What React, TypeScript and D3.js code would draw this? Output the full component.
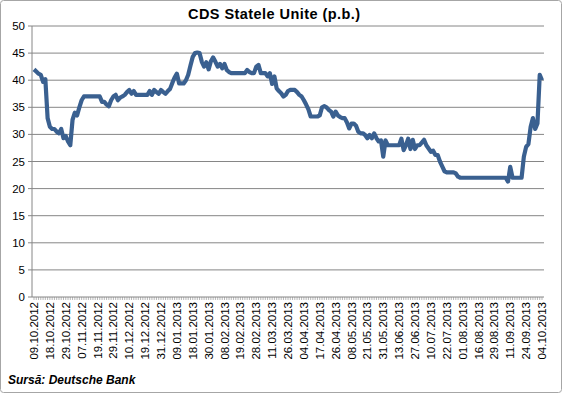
import React from 'react';
import * as d3 from 'd3';

// CDS quotes, one per trading day (p.b.)
const cdsValues = [
  42, 41.6, 41.2, 41, 39.7, 40.2, 33, 31.4, 31, 31,
  30.5, 30.2, 31, 29.3, 29.7, 28.7, 28, 32.7, 34, 33.5,
  35, 36.3, 37, 37, 37, 37, 37, 37, 37, 37,
  36, 36, 35.5, 35.2, 36.3, 37, 37.3, 36.3, 36.8, 37,
  37.3, 37.8, 38.2, 37.5, 38, 37.3, 37.3, 37.3, 37.3, 37.3,
  37.3, 38, 37.3, 38.2, 37.8, 37.5, 38.2, 37.8, 37.5, 38,
  38.4, 39.5, 40.5, 41.2, 39.4, 39.4, 39.4, 40, 41, 42.7,
  44.3, 45, 45.1, 45, 43.4, 42.5, 43.3, 42, 43.5, 44.2,
  43.4, 42.5, 43, 42.2, 43, 41.9, 41.5, 41.3, 41.3, 41.3,
  41.3, 41.3, 41.3, 41.3, 41.9, 41.5, 41.3, 41.3, 42.5, 42.8,
  41.3, 41.3, 41.3, 40.7, 41.3, 39.3, 40.7, 38.5, 38, 37.6,
  37, 37.3, 38, 38.2, 38.2, 38.2, 37.8, 37.3, 37, 36.3,
  35.5, 34.6, 33.3, 33.3, 33.3, 33.3, 33.5, 35, 35.2, 35,
  34.5, 34.2, 33.3, 34.2, 33.5, 33.2, 33, 33, 32.2, 31.1,
  32, 32, 31.6, 30.5, 30.2, 30.2, 29.9, 29.3, 29.9, 29.3,
  30.2, 29.3, 28.7, 28.9, 25.9, 28.9, 28, 28, 28, 28,
  28, 28, 29.2, 27.1, 28, 29.2, 27.3, 29, 27.3, 28,
  28, 28.5, 29, 28, 27.4, 26.8, 27, 26.2, 26.2, 25,
  24.1, 23.2, 23, 23, 23, 23, 22.8, 22.2, 22, 22,
  22, 22, 22, 22, 22, 22, 22, 22, 22, 22,
  22, 22, 22, 22, 22, 22, 22, 22, 22, 21.3,
  24, 22, 22, 22, 22, 22, 25.9, 27.7, 28.2, 31.4,
  33, 31, 32, 41, 40,
];

// one label every 7 trading days
const dateLabels = [
  '09.10.2012', '18.10.2012', '29.10.2012', '07.11.2012', '19.11.2012', '29.11.2012',
  '10.12.2012', '19.12.2012', '31.12.2012', '09.01.2013', '18.01.2013', '30.01.2013',
  '08.02.2013', '19.02.2013', '28.02.2013', '11.03.2013', '26.03.2013', '04.04.2013',
  '17.04.2013', '26.04.2013', '08.05.2013', '21.05.2013', '31.05.2013', '13.06.2013',
  '27.06.2013', '10.07.2013', '22.07.2013', '01.08.2013', '16.08.2013', '29.08.2013',
  '11.09.2013', '24.09.2013', '04.10.2013',
];
const labelStep = 7;
const yTicks = [0, 5, 10, 15, 20, 25, 30, 35, 40, 45, 50];

const W = 562;
const H = 393;
const plot = { left: 32, right: 544, top: 26, bottom: 297 };

export default function App() {
  const x = d3.scaleLinear()
    .domain([0, cdsValues.length - 1])
    .range([34, 542]);
  const y = d3.scaleLinear()
    .domain([0, 50])
    .range([plot.bottom, plot.top]);

  const line = d3.line<number>()
    .x((_, i) => x(i))
    .y((d) => y(d));

  const font = 'Liberation Sans, Arial, sans-serif';

  return (
    <svg
      width={W}
      height={H}
      style={{ position: 'absolute', left: 0, top: 0, background: '#fff' }}
      fontFamily={font}
    >
      <rect x={0.5} y={0.5} width={W - 1} height={H - 1} fill="#fff" stroke="#a6a6a6" rx={3} />

      <text x={274} y={19} textAnchor="middle" fontSize={14.5} fontWeight="bold" fill="#000" textLength={172}>
        CDS Statele Unite (p.b.)
      </text>

      {/* grid + y labels */}
      {yTicks.map((t) => (
        <g key={t}>
          {t > 0 && (
            <line x1={plot.left} x2={plot.right} y1={y(t)} y2={y(t)} stroke="#868686" strokeWidth={1} />
          )}
          <line x1={plot.left - 4} x2={plot.left} y1={y(t)} y2={y(t)} stroke="#868686" />
          <text x={25} y={y(t) + 4} textAnchor="end" fontSize={11.5} fill="#000">
            {t}
          </text>
        </g>
      ))}

      {/* axes */}
      <line x1={plot.left} x2={plot.left} y1={plot.top} y2={plot.bottom} stroke="#868686" />
      <line x1={plot.left} x2={plot.right} y1={plot.bottom} y2={plot.bottom} stroke="#868686" />
      {cdsValues.map((_, i) => (
        <line key={i} x1={x(i)} x2={x(i)} y1={plot.bottom} y2={plot.bottom + 3} stroke="#868686" strokeWidth={0.6} />
      ))}

      {/* x labels */}
      {dateLabels.map((lab, k) => {
        const px = x(k * labelStep) + 4;
        const py = plot.bottom + 5;
        return (
          <text
            key={lab}
            transform={`translate(${px},${py}) rotate(-90)`}
            textAnchor="end"
            fontSize={11.5}
            fill="#000"
          >
            {lab}
          </text>
        );
      })}

      <path d={line(cdsValues) || ''} fill="none" stroke="#3a6090" strokeWidth={4.2} strokeLinejoin="round" />

      <text x={8} y={384} fontSize={12} fontWeight="bold" fontStyle="italic" fill="#000">
        Sursă: Deutsche Bank
      </text>
    </svg>
  );
}
